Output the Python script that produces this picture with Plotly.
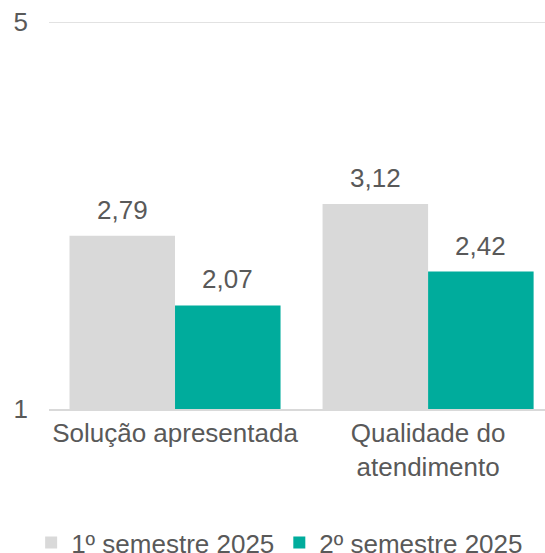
import plotly.graph_objects as go

categories = ["Solução apresentada", "Qualidade do<br>atendimento"]
series_names = ["1º semestre 2025", "2º semestre 2025"]
s1_values = [2.79, 3.12]
s2_values = [2.07, 2.42]
y_ticks = [1, 5]

colors = ["#D9D9D9", "#00AC9C"]
txt = "#595959"
FONT = "Liberation Sans, Arial, sans-serif"

fig = go.Figure()
for name, vals, col in zip(series_names, [s1_values, s2_values], colors):
    fig.add_trace(go.Bar(
        x=categories, y=[v - 1 for v in vals], base=1, name=name,
        marker=dict(color=col, line=dict(width=0)),
        hoverinfo="skip",
    ))

# data labels
bar_px = 105.5
for i, vals in enumerate([s1_values, s2_values]):
    off = (i - 0.5) * bar_px
    for c, v in zip(categories, vals):
        fig.add_annotation(
            x=c, y=v, xref="x", yref="y", text=f"{v:.2f}".replace(".", ","),
            showarrow=False, yanchor="bottom", xshift=off, yshift=9,
            font=dict(family=FONT, size=26, color=txt),
        )

# top gridline at the maximum tick
fig.add_shape(type="line", xref="paper", yref="y", x0=0, x1=1, y0=y_ticks[-1], y1=y_ticks[-1],
              line=dict(color="#D9D9D9", width=1.5), layer="below")

fig.update_layout(
    width=545, height=553,
    margin=dict(l=49, r=0, t=22, b=144, autoexpand=False),
    paper_bgcolor="white", plot_bgcolor="white",
    barmode="group", bargap=0.166, bargroupgap=0,
    font=dict(family=FONT, size=26, color=txt),
    showlegend=True,
    legend=dict(orientation="h", x=-0.036, xanchor="left", y=-0.345, yanchor="middle",
                font=dict(family=FONT, size=26, color=txt),
                traceorder="normal", itemwidth=30),
    xaxis=dict(range=[-0.498, 1.462], showline=True, linecolor="#D9D9D9", linewidth=1.5,
               ticks="", showgrid=False, automargin=False, tickfont=dict(size=26, color=txt)),
    yaxis=dict(range=[1, 5], tickvals=y_ticks, ticktext=[str(t) for t in y_ticks],
               showgrid=True, gridcolor="#D9D9D9", gridwidth=1.5, zeroline=False,
               showline=False, ticks="", ticklabelstandoff=20, automargin=False,
               tickfont=dict(size=26, color=txt)),
)

fig.write_html("out.html", config={"displayModeBar": False},
               post_script="document.body.style.margin='0';")
